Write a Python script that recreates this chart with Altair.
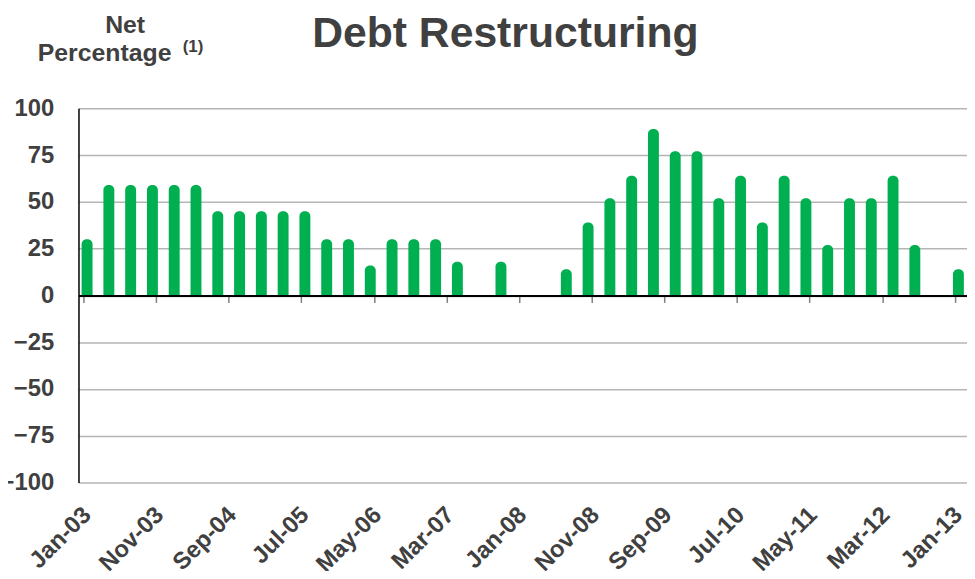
import json
import altair as alt
import pandas as pd

# ---------------- data ----------------
quarters = [d.strftime("%Y-%m") for d in pd.date_range("2003-01-01", "2013-01-01", freq="QS")]
values = [30, 59, 59, 59, 59, 59, 45, 45, 45, 45, 45, 30, 30, 16, 30, 30, 30, 18, 0, 18,
          0, 0, 14, 39, 52, 64, 89, 77, 77, 52, 64, 39, 64, 52, 27, 52, 52, 64, 27, 0, 14]
tick_labels = ["Jan-03", "Nov-03", "Sep-04", "Jul-05", "May-06", "Mar-07", "Jan-08",
               "Nov-08", "Sep-09", "Jul-10", "May-11", "Mar-12", "Jan-13"]
y_ticks = [100, 75, 50, 25, 0, -25, -50, -75, -100]

title_text = "Debt Restructuring"
ylab_line1 = "Net"
ylab_line2 = "Percentage"
footnote_mark = "(1)"

# ---------------- helpers ----------------
start = pd.Timestamp("2003-01-01")


def month_index(ts):
    return (ts.year - start.year) * 12 + ts.month - start.month


dates = pd.to_datetime(quarters)
df = pd.DataFrame({"quarter": quarters,
                   "m": [month_index(d) for d in dates],
                   "value": values})
df["pos"] = df["m"] + 0.5  # bar centred in its month slot
df = df[df["value"] > 0]
tick_months = [month_index(pd.to_datetime(l, format="%b-%y")) for l in tick_labels]

FONT = "Liberation Sans"
TXT = "#404040"
GREEN = "#00B050"
W, H = 895, 377

label_expr = f"{json.dumps(tick_labels)}[indexof({json.dumps(tick_months)}, datum.value)]"

xscale = alt.Scale(domain=[0, 121], nice=False, zero=False)
yscale = alt.Scale(domain=[-100, 100], nice=False)

bars = alt.Chart(df).mark_bar(width=11, cornerRadiusTopLeft=5, cornerRadiusTopRight=5).encode(
    x=alt.X("pos:Q", scale=xscale, axis=alt.Axis(
        values=tick_months, labelExpr=label_expr, orient="bottom", grid=False,
        domain=False, ticks=False, tickSize=0, labelAngle=315, labelAlign="right",
        labelBaseline="top", labelPadding=20, labelOffset=-5, labelFont=FONT,
        labelFontSize=24, labelFontWeight="bold", labelColor=TXT,
        labelOverlap=False, labelFlush=False, labelBound=False, title=None)),
    y=alt.Y("value:Q", scale=yscale, stack=None, axis=alt.Axis(
        values=y_ticks, grid=True, gridColor="#b5b5b5", gridWidth=1.5,
        domain=True, domainColor="#000000", domainWidth=1.5, ticks=False, tickSize=0,
        labelPadding=25, labelFont=FONT, labelFontSize=24, labelFontWeight="bold",
        labelColor=TXT, title=None)),
    y2=alt.datum(0),
    color=alt.value(GREEN),
)

zero_axis = alt.Chart(df).mark_tick(opacity=0).encode(
    x=alt.X("pos:Q", scale=xscale, axis=alt.Axis(
        values=tick_months, orient="bottom", offset=-H / 2, labels=False, grid=False,
        domain=True, domainColor="#000000", domainWidth=2, ticks=True, tickSize=7,
        tickColor="#7f7f7f", tickWidth=1.5, zindex=1, title=None)),
)


def text_layer(s, x, y, size, align):
    return alt.Chart(pd.DataFrame({"t": [s]})).mark_text(
        align=align, baseline="alphabetic", font=FONT, fontSize=size,
        fontWeight="bold", color=TXT
    ).encode(x=alt.value(x), y=alt.value(y), text="t:N")


chart = alt.layer(
    bars,
    zero_axis,
    text_layer(title_text, 430, -62, 43, "center"),
    text_layer(ylab_line1, 47, -76, 25, "center"),
    text_layer(ylab_line2, -41, -48, 25, "left"),
    text_layer(footnote_mark, 105, -57, 17, "left"),
).resolve_axis(x="independent").properties(
    width=W, height=H,
    autosize=alt.AutoSizeParams(type="none"),
    padding={"left": 71, "top": 99, "right": 0, "bottom": 87},
).configure_view(strokeWidth=0)

chart.save("out.html", embed_options={"renderer": "svg", "actions": False})
